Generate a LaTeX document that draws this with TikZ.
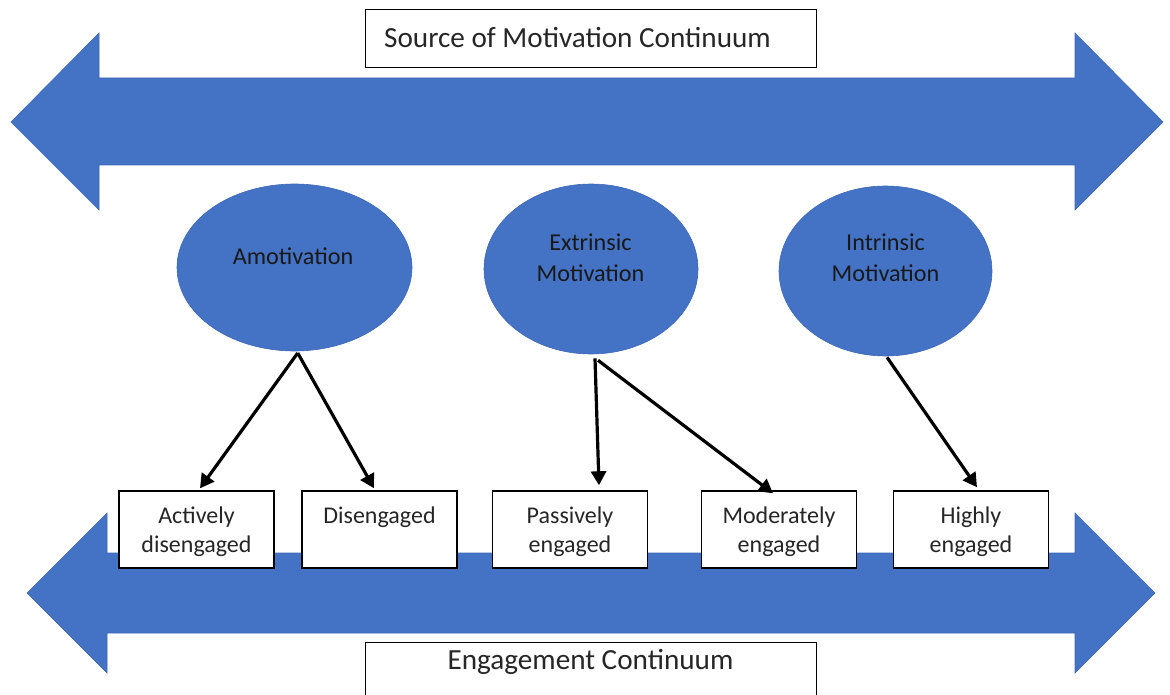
\documentclass[tikz,border=0pt]{standalone}
\usepackage{fontspec}
\setmainfont{Carlito}
\usetikzlibrary{shapes.geometric,arrows.meta}
\definecolor{officeblue}{HTML}{4472C4}
\definecolor{edgeblue}{HTML}{3F69B6}
% invisible struts that fix the text block inside a level box
\newcommand{\topstrut}{\rule{0pt}{23pt}}
\newcommand{\botstrut}{\rule[-5.5pt]{0pt}{5.5pt}}
\begin{document}
\begin{tikzpicture}[x=1pt,y=-1pt,
  bigarrow/.style={fill=officeblue,draw=edgeblue,line width=0.6pt,line join=miter},
  motiv/.style={ellipse,fill=officeblue,draw=edgeblue,line width=0.6pt,inner sep=0pt},
  motivtext/.style={font=\fontsize{24.2}{31}\selectfont,align=center,text=black!90},
  levelbox/.style={draw=black,fill=white,line width=1.4pt,minimum width=155pt,minimum height=77pt,
    inner sep=0pt,align=center,font=\fontsize{24}{29}\selectfont,text=black!85},
  titlebox/.style={draw=black,fill=white,line width=1.4pt,minimum width=451pt,inner sep=0pt},
  titletext/.style={font=\fontsize{29.2}{34}\selectfont,text=black!85,inner sep=0pt},
  link/.style={draw=black,line width=3.2pt,-{Triangle[length=14pt,width=15pt]}}
]
\useasboundingbox (0,0) rectangle (1170,695);
\clip (0,0) rectangle (1170,695);

% double-headed band for the source of motivation
\path[bigarrow] (11,122) -- (99,33) -- (99,78) -- (1075,78) -- (1075,33) -- (1163,122)
  -- (1075,210) -- (1075,165) -- (99,165) -- (99,210) -- cycle;

% double-headed band for engagement
\path[bigarrow] (27,593) -- (107,513) -- (107,553) -- (1075,553) -- (1075,513) -- (1155,593)
  -- (1075,673) -- (1075,633) -- (107,633) -- (107,673) -- cycle;

% continuum titles
\node[titlebox,minimum height=58pt,anchor=north west] (srcbox) at (365,9) {};
\node[titletext,anchor=west] (srctxt) at (384,38) {Source of Motivation Continuum};
\node[titlebox,minimum height=64pt,anchor=north west] (engbox) at (365,642) {};
\node[titletext] (engtxt) at (590.5,661.5) {Engagement Continuum};

% kinds of motivation
\node[motiv,minimum width=235pt,minimum height=167pt] (amo) at (294.5,267.5) {};
\node[motivtext] (amotxt) at (293,256) {Amotivation};
\node[motiv,minimum width=214pt,minimum height=170pt] (ext) at (591,269) {};
\node[motivtext] (exttxt) at (590.5,258) {Extrinsic\\Motivation};
\node[motiv,minimum width=213pt,minimum height=170pt] (int) at (885.5,271) {};
\node[motivtext] (inttxt) at (885.5,258) {Intrinsic\\Motivation};

% levels of engagement
\node[levelbox] (act) at (196.5,529.5) {\topstrut Actively\\disengaged\botstrut};
\node[levelbox] (dis) at (379.5,529.5) {\topstrut Disengaged\\\botstrut};
\node[levelbox] (pas) at (570,529.5) {\topstrut Passively\\engaged\botstrut};
\node[levelbox] (mod) at (779,529.5) {\topstrut Moderately\\engaged\botstrut};
\node[levelbox] (hig) at (971,529.5) {\topstrut Highly\\engaged\botstrut};

% links from motivation to engagement
\draw[link] ([shift={(3.2,1.7)}]amo.south) -- ([shift={(3.5,-2)}]act.north);
\draw[link] ([shift={(3.2,1.7)}]amo.south) -- ([shift={(-5.5,-2)}]dis.north);
\draw[link] ([shift={(4,4)}]ext.south) -- ([shift={(29,-5)}]pas.north);
\draw[link] ([shift={(7,6)}]ext.south) -- ([shift={(-6,3)}]mod.north);
\draw[link] ([shift={(1.5,1)}]int.south) -- ([shift={(6,-3)}]hig.north);
\end{tikzpicture}
\end{document}
